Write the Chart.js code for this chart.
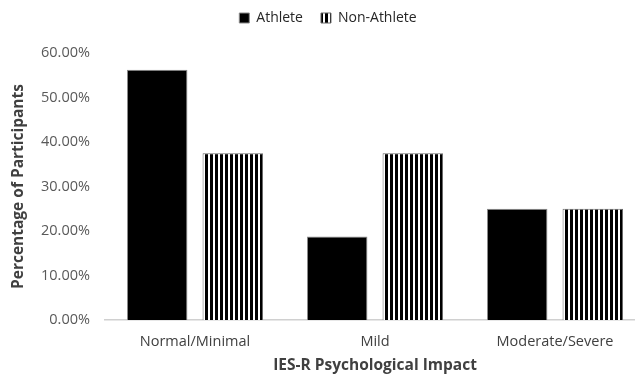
<!DOCTYPE html>
<html><head><meta charset="utf-8">
<script src="https://cdn.jsdelivr.net/npm/chart.js@4/dist/chart.umd.min.js"></script>
<style>html,body{margin:0;padding:0;background:#fff;overflow:hidden}#wrap{width:650px;height:379px}</style>
</head><body><div id="wrap"><canvas id="c" width="650" height="379"></canvas></div>
<script>
const categories = ['Normal/Minimal', 'Mild', 'Moderate/Severe'];
const athlete = [56.25, 18.75, 25.0];
const nonAthlete = [37.5, 37.5, 25.0];
const yTickValues = [0, 10, 20, 30, 40, 50, 60];
const seriesNames = ['Athlete', 'Non-Athlete'];
const xTitle = 'IES-R Psychological Impact';
const yTitle = 'Percentage of Participants';

const canvas = document.getElementById('c');
const ctx = canvas.getContext('2d');
const pc = document.createElement('canvas');
pc.width = 5; pc.height = 5;
const g = pc.getContext('2d');
g.fillStyle = '#fff'; g.fillRect(0, 0, 5, 5);
g.fillStyle = '#000'; g.fillRect(0, 0, 3, 5);
const stripes = ctx.createPattern(pc, 'repeat');

const FONT = '"Open Sans", sans-serif';

const legendGap = {
  id: 'legendGap',
  beforeLayout(chart) {
    const lg = chart.legend;
    if (lg && !lg._gapWrapped) {
      const f = lg.fit;
      lg.fit = function () { f.call(this); this.height += 18; };
      lg._gapWrapped = true;
    }
  }
};

new Chart(ctx, {
  type: 'bar',
  data: {
    labels: categories,
    datasets: [
      { label: seriesNames[0], data: athlete, backgroundColor: '#000', borderColor: '#8a8a8a', borderWidth: 1 },
      { label: seriesNames[1], data: nonAthlete, backgroundColor: stripes, borderColor: '#6a6a6a', borderWidth: 1 }
    ]
  },
  plugins: [legendGap],
  options: {
    responsive: false,
    animation: false,
    devicePixelRatio: 1,
    layout: { padding: { left: 11, right: 5, top: -7, bottom: 0 } },
    datasets: { bar: { categoryPercentage: 0.84, barPercentage: 0.8 } },
    plugins: {
      legend: {
        position: 'top',
        labels: { boxWidth: 10, boxHeight: 10, padding: 18, color: '#262626', font: { family: FONT, size: 14 } }
      },
      tooltip: { enabled: false }
    },
    scales: {
      x: {
        grid: { display: false, drawTicks: false },
        border: { display: true, color: '#d0d0d0', width: 1.5 },
        ticks: { color: '#404040', padding: 13, font: { family: FONT, size: 14.5 } },
        title: { display: true, text: xTitle, color: '#404040', padding: { top: 4, bottom: 4 }, font: { family: FONT, size: 15.5, weight: 'bold' } },
        afterFit: s => { s.height = 59; }
      },
      y: {
        min: 0, max: 60,
        afterBuildTicks: s => { s.ticks = yTickValues.map(v => ({ value: v })); },
        grid: { display: false, drawTicks: false },
        border: { display: false },
        ticks: { color: '#595959', padding: 15, font: { family: FONT, size: 14.5 }, callback: v => Number(v).toFixed(2) + '%' },
        title: { display: true, text: yTitle, color: '#404040', padding: { top: -2, bottom: 4 }, font: { family: FONT, size: 15.5, weight: 'bold' } },
        afterFit: s => { s.width = 94; }
      }
    }
  }
});
</script>
</body></html>
